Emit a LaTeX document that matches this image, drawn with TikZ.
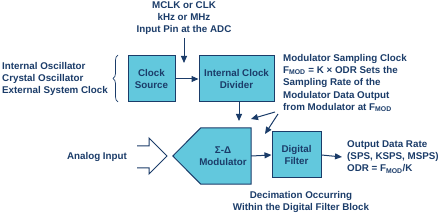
\documentclass[tikz,border=0pt]{standalone}
\usepackage{fontspec}
\setmainfont{Liberation Sans}
\usetikzlibrary{arrows.meta,decorations.pathreplacing}
\definecolor{navy}{RGB}{27,60,105}
\definecolor{cyanfill}{RGB}{98,200,221}
\begin{document}
\begin{tikzpicture}[x=1pt,y=-1pt,
  txt/.style={font=\fontsize{9.8}{12.3}\selectfont\bfseries, text=navy, inner sep=0pt},
  blk/.style={txt, draw=navy, fill=cyanfill, line width=1pt, align=center, minimum height=46pt},
  arr/.style={-{Triangle[length=7pt,width=6pt]}, draw=navy, line width=1pt}]
\useasboundingbox (0,0) rectangle (438,213);
% blocks
\node[blk, minimum width=47pt] (clk) at (151.5,79) {Clock\\Source};
\node[blk, minimum width=75pt] (div) at (236.5,79) {Internal Clock\\Divider};
\node[blk, minimum width=49pt] (filt) at (296.5,155) {Digital\\Filter};
\node[minimum width=50pt, minimum height=56pt, inner sep=0pt] (mod) at (226,156) {};
\draw[draw=navy, fill=cyanfill, line width=1pt] (mod.north west) -- (mod.north east) -- (mod.south east) -- (mod.south west) -- ([xshift=-28pt]mod.west) -- cycle;
\node[txt, align=center] (modtxt) at (223,156) {Σ-Δ\\Modulator};
% texts
\node[txt, align=center] (mclk) at (184,18) {MCLK or CLK\\kHz or MHz\\Input Pin at the ADC};
\node[txt, align=left, anchor=west] (src) at (2,79) {Internal Oscillator\\Crystal Oscillator\\External System Clock};
\node[txt, align=left, anchor=west] (samp) at (283,83) {Modulator Sampling Clock\\F\textsubscript{MOD} = K × ODR Sets the\\Sampling Rate of the\\Modulator Data Output\\from Modulator at F\textsubscript{MOD}};
\node[txt, align=left, anchor=west] (out) at (347,157) {Output Data Rate\\(SPS, KSPS, MSPS)\\ODR = F\textsubscript{MOD}/K};
\node[txt, align=center] (dec) at (301,202) {Decimation Occurring\\Within the Digital Filter Block};
\node[txt] (ain) at (97,157) {Analog Input};
% brace
\draw[navy, line width=0.7pt, decorate, decoration={brace, amplitude=5pt}] (118,102) -- (118,55);
% connectors
\coordinate (mclkend) at (184,63);
\draw[arr, shorten <=3pt] (mclk.south) -- (mclkend);
\draw[arr] (clk.east) -- (div.west);
\coordinate (divend) at (239,121);
\draw[arr] (div.south -| divend) -- (divend);
\draw[arr] (mod.east) -- (filt.west);
\draw[arr] (filt.east) -- ([xshift=-5pt]out.west);
\coordinate (d1s) at (275,112);
\coordinate (d1e) at (251,119);
\coordinate (d2s) at (278,114);
\coordinate (d2e) at (265,134);
\draw[arr] (d1s) -- (d1e);
\draw[arr] (d2s) -- (d2e);
% hollow input arrow
\draw[navy, line width=1pt, line join=miter] (137,146) -- (149,146) -- (149,138) -- (167,156) -- (149,174) -- (149,168) -- (137,168);
\end{tikzpicture}
\end{document}
